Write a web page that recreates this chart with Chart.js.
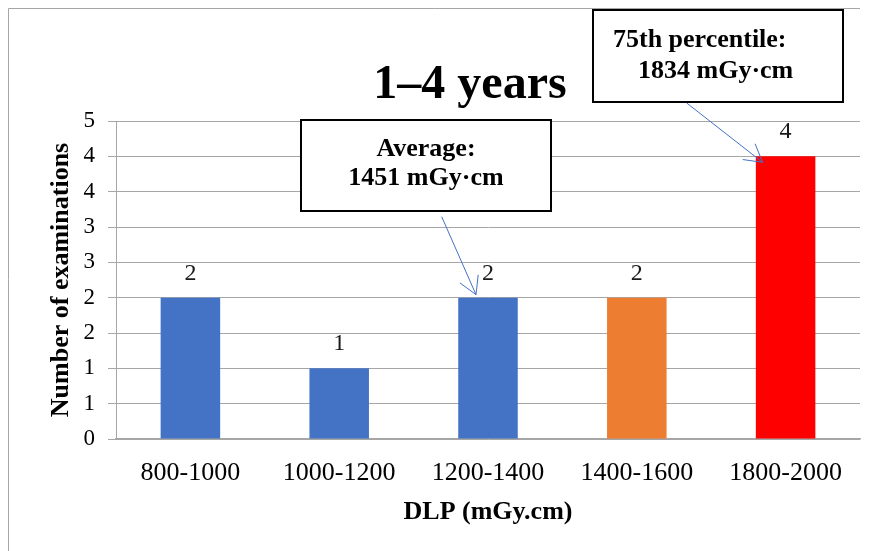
<!DOCTYPE html>
<html>
<head>
<meta charset="utf-8">
<script src="https://cdn.jsdelivr.net/npm/chart.js@4/dist/chart.umd.min.js"></script>
<style>
  html, body { margin: 0; padding: 0; background: #ffffff; }
  #wrap { width: 878px; height: 551px; }
</style>
</head>
<body>
<div id="wrap"><canvas id="c" width="878" height="551"></canvas></div>
<script>
const categories = ['800-1000', '1000-1200', '1200-1400', '1400-1600', '1800-2000'];
const examinations = [2, 1, 2, 2, 4];
const barColors = ['#4472C4', '#4472C4', '#4472C4', '#ED7D31', '#FF0000'];
const chartTitle = '1\u20134 years';
const xAxisTitle = 'DLP (mGy.cm)';
const yAxisTitle = 'Number of examinations';
const averageLines = ['Average:', '1451 mGy\u00B7cm'];
const percentileLines = ['75th percentile:', '1834 mGy\u00B7cm'];

const SERIF = '"Liberation Serif", "Times New Roman", serif';

function drawArrow(ctx, x0, y0, x1, y1) {
  const ang = Math.atan2(y1 - y0, x1 - x0);
  const len = 20, spread = Math.PI / 6;
  ctx.save();
  ctx.strokeStyle = '#4472C4';
  ctx.lineWidth = 1;
  ctx.beginPath();
  ctx.moveTo(x0, y0);
  ctx.lineTo(x1, y1);
  ctx.moveTo(x1 - len * Math.cos(ang - spread), y1 - len * Math.sin(ang - spread));
  ctx.lineTo(x1, y1);
  ctx.lineTo(x1 - len * Math.cos(ang + spread), y1 - len * Math.sin(ang + spread));
  ctx.stroke();
  ctx.restore();
}

const decor = {
  id: 'decor',
  beforeDraw(chart) {
    const ctx = chart.ctx;
    ctx.save();
    ctx.fillStyle = '#ffffff';
    ctx.fillRect(0, 0, chart.width, chart.height);
    // outer frame
    ctx.strokeStyle = '#a6a6a6';
    ctx.lineWidth = 1;
    ctx.beginPath();
    ctx.moveTo(8.5, chart.height);
    ctx.lineTo(8.5, 8.5);
    ctx.lineTo(860, 8.5);
    ctx.stroke();
    ctx.restore();
  },
  afterDatasetsDraw(chart) {
    const ctx = chart.ctx;
    const meta = chart.getDatasetMeta(0);
    ctx.save();
    // data labels
    ctx.fillStyle = '#1a1a1a';
    ctx.font = '24px ' + SERIF;
    ctx.textAlign = 'center';
    ctx.textBaseline = 'alphabetic';
    meta.data.forEach((bar, i) => {
      ctx.fillText(String(examinations[i]), bar.x, bar.y - 18);
    });
    // title
    ctx.fillStyle = '#000000';
    ctx.font = 'bold 48px ' + SERIF;
    ctx.fillText(chartTitle, 470, 98);

    const xs = chart.scales.x, ys = chart.scales.y;
    // Average callout
    const ax = xs.getPixelForValue(2) - 12, ay = ys.getPixelForValue(2) - 3;
    drawArrow(ctx, 441.7, 216.7, ax, ay);
    ctx.fillStyle = '#ffffff';
    ctx.fillRect(301, 120, 250, 91);
    ctx.strokeStyle = '#000000';
    ctx.lineWidth = 2;
    ctx.strokeRect(301, 120, 250, 91);
    ctx.fillStyle = '#000000';
    ctx.font = 'bold 26px ' + SERIF;
    ctx.textAlign = 'center';
    ctx.fillText(averageLines[0], 426, 156);
    ctx.fillText(averageLines[1], 426, 185);

    // 75th percentile callout
    const px = xs.getPixelForValue(4) - 23, py = ys.getPixelForValue(4) + 6;
    drawArrow(ctx, 686.7, 103, px, py);
    ctx.fillStyle = '#ffffff';
    ctx.fillRect(593, 10, 250, 92);
    ctx.strokeStyle = '#000000';
    ctx.lineWidth = 2;
    ctx.strokeRect(593, 10, 250, 92);
    ctx.fillStyle = '#000000';
    ctx.textAlign = 'left';
    ctx.fillText(percentileLines[0], 613, 47);
    ctx.fillText(percentileLines[1], 638, 78);
    ctx.restore();
  }
};

new Chart(document.getElementById('c'), {
  type: 'bar',
  data: {
    labels: categories,
    datasets: [{
      data: examinations,
      backgroundColor: barColors,
      borderWidth: 0,
      barPercentage: 0.4,
      categoryPercentage: 1.0
    }]
  },
  options: {
    responsive: false,
    devicePixelRatio: 1,
    animation: false,
    layout: { padding: { top: 121, right: 18, left: 36, bottom: 15 } },
    plugins: {
      legend: { display: false },
      title: { display: false },
      tooltip: { enabled: false }
    },
    scales: {
      x: {
        afterFit(scale) { scale.height = 97; },
        grid: { display: false, drawTicks: false },
        border: { display: true, color: '#a6a6a6', width: 1.5 },
        ticks: { color: '#000000', padding: 19, maxRotation: 0, autoSkip: false,
                 font: { family: SERIF, size: 26 } },
        title: { display: true, text: xAxisTitle, color: '#000000',
                 padding: { top: 0, bottom: 8 },
                 font: { family: SERIF, size: 26, weight: 'bold' } }
      },
      y: {
        min: 0,
        max: 4.5,
        afterFit(scale) { scale.width = 80; },
        grid: { color: '#a6a6a6', lineWidth: 1, tickLength: 8, drawTicks: true },
        border: { display: true, color: '#a6a6a6', width: 1 },
        ticks: { stepSize: 0.5, color: '#000000', padding: 13,
                 font: { family: SERIF, size: 23 },
                 callback: (v) => String(Math.round(v)) },
        title: { display: true, text: yAxisTitle, color: '#000000',
                 padding: { top: 10, bottom: 0 },
                 font: { family: SERIF, size: 26, weight: 'bold' } }
      }
    }
  },
  plugins: [decor]
});
</script>
</body>
</html>
